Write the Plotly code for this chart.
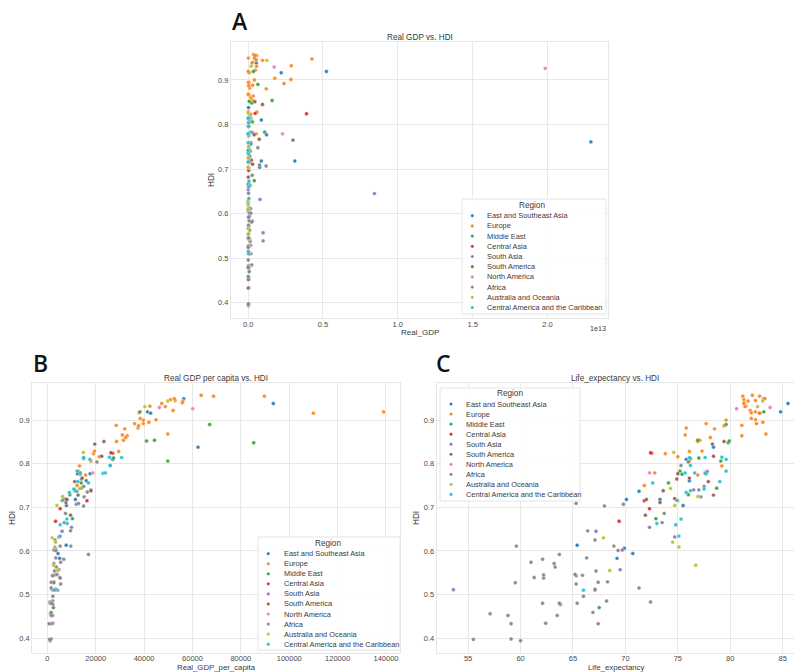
import plotly.graph_objects as go

W, H = 794, 672

# ---------------- data ----------------
REGIONS = ["East and Southeast Asia", "Europe", "Middle East", "Central Asia", "South Asia",
           "South America", "North America", "Africa", "Australia and Oceania",
           "Central America and the Caribbean"]
COLORS = ["#1f77b4", "#ff7f0e", "#2ca02c", "#d62728", "#9467bd",
          "#8c564b", "#e377c2", "#7f7f7f", "#bcbd22", "#17becf"]

# East and Southeast Asia
ESA_GDP_BN = [22900, 5230, 2210, 3120, 1230, 880, 880, 770, 550, 440, 27, 41, 72, 56, 275, 4.5]
ESA_PC = [16100, 41400, 42700, 11600, 17700, 27000, 8200, 7900, 93400, 56400, 62300, 12100, 4400, 7800, 5100, 3300]
ESA_LIFE = [76.1, 84.8, 82.8, 73.3, 77.7, 75.8, 70.1, 75.5, 85.5, 83.2, 78.4, 71.3, 70.7, 65.4, 69.2, 69.9]
ESA_HDI = [0.761, 0.919, 0.916, 0.718, 0.777, 0.810, 0.718, 0.704, 0.938, 0.949, 0.838, 0.737, 0.594, 0.613, 0.583, 0.606]

# Europe
EU_GDP_BN = [4260, 2880, 2860, 2400, 1780, 1210, 960, 560, 570, 540, 480, 360, 440, 320, 260, 340, 300, 420, 590, 310,
             540, 180, 180, 155, 125, 115, 100, 78, 58, 48, 68, 21, 22, 39, 32, 45, 12, 33, 5, 3.3, 33]
EU_PC = [50900, 42400, 44900, 39700, 38400, 32000, 56000, 48800, 68700, 52800, 52000, 63600, 89700, 55800, 47300, 33000,
         28500, 39700, 29500, 31500, 12800, 19100, 32400, 21500, 18000, 28600, 37500, 37900, 31000, 36100, 110000, 52500,
         42000, 13300, 15800, 13400, 19500, 12300, 139000, 49800, 37700]
EU_LIFE = [81.3, 81.5, 82.4, 82.5, 82.0, 78.5, 81.7, 81.4, 82.8, 82.4, 81.9, 82.1, 81.2, 81.3, 81.3, 81.1, 81.1, 79.6,
           76.1, 77.1, 72.8, 73.8, 78.1, 75.0, 76.1, 76.9, 75.8, 82.0, 75.7, 77.7, 82.8, 83.3, 83.1, 79.2, 76.9, 77.6,
           77.3, 71.8, 82.4, 83.4, 79.4]
EU_HDI = [0.947, 0.932, 0.901, 0.892, 0.904, 0.880, 0.944, 0.931, 0.955, 0.945, 0.922, 0.957, 0.955, 0.940, 0.938, 0.864,
          0.888, 0.900, 0.828, 0.854, 0.779, 0.823, 0.860, 0.816, 0.806, 0.851, 0.882, 0.917, 0.866, 0.892, 0.916, 0.949,
          0.895, 0.795, 0.774, 0.780, 0.829, 0.750, 0.919, 0.868, 0.887]

# Middle East
ME_GDP_BN = [1600, 1100, 350, 650, 410, 240, 290, 180, 100, 85, 72, 70, 56, 40, 140]
ME_PC = [44300, 12800, 38300, 67100, 10400, 85300, 49800, 27400, 9300, 14000, 41000, 2500, 15000, 13600, 14000]
ME_LIFE = [76.9, 75.2, 83.2, 79.6, 72.9, 79.8, 79.1, 77.0, 76.0, 78.7, 79.9, 67.5, 76.2, 75.4, 74.1]
ME_HDI = [0.854, 0.783, 0.919, 0.890, 0.674, 0.848, 0.806, 0.813, 0.729, 0.744, 0.852, 0.470, 0.812, 0.776, 0.756]

# Central Asia
CA_GDP_BN = [3900, 470, 220, 100, 35, 29]
CA_PC = [27000, 26300, 6700, 16400, 5300, 3400]
CA_LIFE = [72.5, 72.4, 74.7, 71.8, 72.3, 69.4]
CA_HDI = [0.824, 0.825, 0.720, 0.715, 0.697, 0.668]

# South Asia
SA_GDP_BN = [8440, 1000, 790, 280, 80, 80, 7, 10]
SA_PC = [6100, 4800, 4800, 12900, 2700, 2100, 10000, 18000]
SA_LIFE = [67.2, 69.5, 74.7, 77.8, 69.7, 53.6, 72.3, 76.5]
SA_HDI = [0.645, 0.557, 0.632, 0.782, 0.602, 0.511, 0.654, 0.740]

# South America
SAM_GDP_BN = [3000, 960, 740, 450, 400, 300, 190, 90, 90, 78, 7, 10]
SAM_PC = [14100, 19600, 14400, 23400, 12500, 7700, 11300, 7900, 12700, 22500, 9600, 18000]
SAM_LIFE = [74.9, 78.3, 76.1, 79.4, 75.0, 73.3, 77.9, 72.0, 78.4, 78.4, 71.9, 73.6]
SAM_HDI = [0.765, 0.845, 0.767, 0.851, 0.777, 0.711, 0.759, 0.718, 0.728, 0.817, 0.682, 0.738]

# North America
NA_GDP_BN = [19850, 1740, 2300]
NA_PC = [60100, 46300, 18800]
NA_LIFE = [80.6, 83.8, 72.3]
NA_HDI = [0.926, 0.929, 0.779]

# Africa
AF_GDP_BN = [1000, 1200, 760, 650, 270, 240, 180, 160, 160, 220, 180, 135, 60, 130, 95, 90, 70, 65, 55, 45, 40, 40, 35,
             29, 40, 38, 40, 25, 30, 35, 25, 28, 4.5, 21, 20, 8, 12, 13, 7, 18, 10, 5.5, 3.5, 6, 25, 11, 28, 30, 5,
             2.5, 4, 0.7, 2.8]
AF_PC = [5200, 12000, 12900, 15000, 7500, 2200, 3500, 2700, 5300, 6800, 4200, 11200, 15200, 5300, 3700, 2200, 1100, 3500,
         3400, 2300, 2200, 16500, 15000, 20500, 1600, 1300, 2700, 2200, 2300, 3200, 1200, 1600, 900, 1100, 1600, 700,
         1600, 1600, 1400, 4000, 1600, 2300, 1800, 2700, 9600, 9700, 5500, 17000, 5500, 3000, 7000, 3200, 26000]
AF_LIFE = [61.3, 69.8, 65.3, 77.5, 73.7, 68.2, 69.3, 68.3, 68.9, 62.1, 67.1, 77.0, 77.2, 62.2, 63.3, 65.9, 62.1, 66.3,
           67.1, 62.4, 63.5, 64.9, 68.0, 76.0, 67.4, 57.1, 63.2, 65.3, 63.8, 62.2, 60.0, 59.1, 55.5, 72.4, 59.1, 67.4,
           58.8, 71.3, 65.4, 65.2, 66.9, 66.0, 63.7, 59.5, 66.4, 59.6, 61.0, 63.7, 65.3, 67.2, 73.5, 67.1, 75.3]
AF_HDI = [0.539, 0.707, 0.709, 0.748, 0.686, 0.485, 0.601, 0.529, 0.611, 0.581, 0.510, 0.740, 0.724, 0.538, 0.563, 0.544,
          0.480, 0.584, 0.512, 0.434, 0.452, 0.735, 0.703, 0.804, 0.528, 0.456, 0.571, 0.543, 0.477, 0.545, 0.394,
          0.398, 0.397, 0.483, 0.433, 0.433, 0.452, 0.515, 0.480, 0.546, 0.459, 0.496, 0.480, 0.527, 0.646, 0.611,
          0.574, 0.592, 0.524, 0.554, 0.665, 0.625, 0.796]

# Australia and Oceania
AO_GDP_BN = [1250, 200, 37, 12, 1.1, 0.6, 0.8, 1.4, 0.25, 0.4, 0.3, 0.2]
AO_PC = [49800, 40300, 4300, 13400, 6000, 6300, 3100, 2600, 2000, 3400, 14900, 4000]
AO_LIFE = [83.1, 82.6, 68.5, 74.3, 75.0, 76.9, 75.1, 76.7, 67.9, 74.5, 74.6, 74.7]
AO_HDI = [0.944, 0.931, 0.555, 0.743, 0.715, 0.725, 0.609, 0.567, 0.630, 0.620, 0.826, 0.704]

# Central America and the Caribbean
CAC_GDP_BN = [137, 190, 140, 90, 110, 50, 55, 35, 33, 26, 37, 12, 5, 2.8, 1.8, 1.3, 2.3, 0.8, 1.5, 3.3]
CAC_PC = [12300, 17000, 8200, 17600, 25700, 5300, 8100, 5300, 2900, 9100, 26000, 30700, 15000, 12600, 13600, 11500,
          23000, 11000, 24000, 6400]
CAC_LIFE = [79.6, 72.6, 73.0, 79.6, 79.2, 75.1, 75.3, 74.8, 66.0, 75.8, 76.2, 76.1, 77.6, 79.0, 75.7, 76.2, 77.6, 77.5,
            76.6, 74.9]
CAC_HDI = [0.783, 0.756, 0.663, 0.810, 0.815, 0.634, 0.673, 0.660, 0.510, 0.734, 0.796, 0.814, 0.814, 0.759, 0.779,
           0.738, 0.778, 0.742, 0.779, 0.716]

GDP_BN = [ESA_GDP_BN, EU_GDP_BN, ME_GDP_BN, CA_GDP_BN, SA_GDP_BN, SAM_GDP_BN, NA_GDP_BN, AF_GDP_BN, AO_GDP_BN, CAC_GDP_BN]
GDP_PC = [ESA_PC, EU_PC, ME_PC, CA_PC, SA_PC, SAM_PC, NA_PC, AF_PC, AO_PC, CAC_PC]
LIFE = [ESA_LIFE, EU_LIFE, ME_LIFE, CA_LIFE, SA_LIFE, SAM_LIFE, NA_LIFE, AF_LIFE, AO_LIFE, CAC_LIFE]
HDI = [ESA_HDI, EU_HDI, ME_HDI, CA_HDI, SA_HDI, SAM_HDI, NA_HDI, AF_HDI, AO_HDI, CAC_HDI]

for i in range(len(REGIONS)):
    n = len(HDI[i])
    if not (len(GDP_BN[i]) == len(GDP_PC[i]) == len(LIFE[i]) == n):
        raise ValueError("length mismatch in region %s: %d %d %d %d" % (
            REGIONS[i], len(GDP_BN[i]), len(GDP_PC[i]), len(LIFE[i]), n))

X_TICKS_A = [0, 0.5e13, 1.0e13, 1.5e13, 2.0e13]
X_TICKTEXT_A = ["0.0", "0.5", "1.0", "1.5", "2.0"]
X_TICKS_B = [0, 20000, 40000, 60000, 80000, 100000, 120000, 140000]
X_TICKS_C = [55, 60, 65, 70, 75, 80, 85]
Y_TICKS = [0.4, 0.5, 0.6, 0.7, 0.8, 0.9]

# ---------------- layout helpers ----------------
FONT = "Liberation Sans, Arial, sans-serif"
TXT = "#3a3a3a"


def px(x):
    return x / W


def py(y):
    return 1 - y / H


def padded(vals, frac=0.05):
    lo, hi = min(vals), max(vals)
    s = hi - lo
    return [lo - frac * s, hi + frac * s]


all_gdp = [v * 1e9 for grp in GDP_BN for v in grp]
all_pc = [v for grp in GDP_PC for v in grp]
all_life = [v for grp in LIFE for v in grp]
all_hdi = [v for grp in HDI for v in grp]

# panel pixel boxes (left, top, right, bottom)
A_BOX = (231, 42, 608, 318)
B_BOX = (32.3, 383, 400.3, 653)
C_LEFT = 436.7
C_FULL_W = B_BOX[2] - B_BOX[0]

fig = go.Figure()

for i, reg in enumerate(REGIONS):
    mk = dict(color=COLORS[i], size=3.9, opacity=0.9, line=dict(color="white", width=0.4))
    fig.add_trace(go.Scatter(x=[v * 1e9 for v in GDP_BN[i]], y=HDI[i], mode="markers", marker=mk,
                             name=reg, showlegend=False, xaxis="x", yaxis="y"))
    fig.add_trace(go.Scatter(x=GDP_PC[i], y=HDI[i], mode="markers", marker=mk,
                             name=reg, showlegend=False, xaxis="x2", yaxis="y2"))
    fig.add_trace(go.Scatter(x=LIFE[i], y=HDI[i], mode="markers", marker=mk,
                             name=reg, showlegend=False, xaxis="x3", yaxis="y3"))

axis_style = dict(showgrid=True, gridcolor="#e8e8e8", gridwidth=1, zeroline=False,
                  showline=True, linecolor="#e6e6e6", linewidth=1, mirror=True, ticks="",
                  tickfont=dict(family=FONT, size=7.5, color="#4a4a4a"), automargin=False)

yr = padded(all_hdi)
c_full = padded(all_life)
c_vis = [c_full[0], c_full[0] + (c_full[1] - c_full[0]) * (W - C_LEFT) / C_FULL_W]

fig.update_layout(
    width=W, height=H, margin=dict(l=0, r=0, t=0, b=0),
    paper_bgcolor="white", plot_bgcolor="white",
    font=dict(family=FONT, color=TXT),
    xaxis=dict(axis_style, domain=[px(A_BOX[0]), px(A_BOX[2])], range=padded(all_gdp),
               tickvals=X_TICKS_A, ticktext=X_TICKTEXT_A, anchor="y", ticklabelstandoff=-1),
    yaxis=dict(axis_style, domain=[py(A_BOX[3]), py(A_BOX[1])], range=yr,
               tickvals=Y_TICKS, ticktext=["%.1f" % v for v in Y_TICKS], anchor="x"),
    xaxis2=dict(axis_style, domain=[px(B_BOX[0]), px(B_BOX[2])], range=padded(all_pc),
                tickvals=X_TICKS_B, tickformat="d", anchor="y2", ticklabelstandoff=-2),
    yaxis2=dict(axis_style, domain=[py(B_BOX[3]), py(B_BOX[1])], range=yr,
                tickvals=Y_TICKS, ticktext=["%.1f" % v for v in Y_TICKS], anchor="x2"),
    xaxis3=dict(axis_style, domain=[px(C_LEFT), 1.0], range=c_vis,
                tickvals=X_TICKS_C, anchor="y3", ticklabelstandoff=-2),
    yaxis3=dict(axis_style, domain=[py(B_BOX[3]), py(B_BOX[1])], range=yr,
                tickvals=Y_TICKS, ticktext=["%.1f" % v for v in Y_TICKS], anchor="x3"),
)

ann = []
shapes = []


def text(x, y, s, size=8.5, color=TXT, xanchor="center", angle=0, family=FONT, weight=None):
    f = dict(family=family, size=size, color=color)
    if weight:
        f["weight"] = weight
    ann.append(dict(x=px(x), y=py(y), xref="paper", yref="paper", text=s, showarrow=False,
                    xanchor=xanchor, yanchor="middle", textangle=angle, font=f))


# panel letters
text(230, 21, "A", size=23, color="#111111", xanchor="left", family="Open Sans, sans-serif", weight=600)
text(31, 363, "B", size=23, color="#111111", xanchor="left", family="Open Sans, sans-serif", weight=600)
text(434, 363, "C", size=23, color="#111111", xanchor="left", family="Open Sans, sans-serif", weight=600)

# titles
text((A_BOX[0] + A_BOX[2]) / 2, 37, "Real GDP vs. HDI", size=8.2)
text((B_BOX[0] + B_BOX[2]) / 2, 378, "Real GDP per capita vs. HDI", size=8.2)
text(C_LEFT + C_FULL_W / 2 - 6, 378, "Life_expectancy vs. HDI", size=8.2)

# axis titles
text(212, 180, "HDI", size=8.2, angle=-90)
text(12, 518, "HDI", size=8.2, angle=-90)
text(416, 518, "HDI", size=8.2, angle=-90)
text((A_BOX[0] + A_BOX[2]) / 2, 332.5, "Real_GDP", size=8.0)
text((B_BOX[0] + B_BOX[2]) / 2, 667.3, "Real_GDP_per_capita", size=7.8)
text(616, 667.3, "Life_expectancy", size=7.8)
text(608, 328, "1e13", size=7.2, xanchor="right")


# legends
def legend(box, title_xy, y0, dy, dot_x, text_x):
    shapes.append(dict(type="rect", xref="paper", yref="paper", x0=px(box[0]), x1=px(box[2]),
                       y0=py(box[3]), y1=py(box[1]), line=dict(color="#e4e4e4", width=1),
                       fillcolor="rgba(255,255,255,0.85)", layer="above"))
    text(title_xy[0], title_xy[1], "Region", size=8.2)
    for i, reg in enumerate(REGIONS):
        yy = y0 + i * dy
        shapes.append(dict(type="circle", xref="paper", yref="paper", xsizemode="pixel",
                           ysizemode="pixel", xanchor=px(dot_x), yanchor=py(yy),
                           x0=-1.6, x1=1.6, y0=-1.6, y1=1.6, fillcolor=COLORS[i],
                           line=dict(color="white", width=0.3), layer="above"))
        text(text_x, yy, reg, size=7.4, xanchor="left")


legend((462, 199, 606, 314), (532, 205), 215.7, 10.2, 472.3, 485)
legend((258, 537, 400, 650), (328, 543), 553.7, 10.05, 268.3, 281.7)
legend((440, 388, 580, 501), (510, 393), 404, 10.05, 451, 463.5)

fig.update_layout(annotations=ann, shapes=shapes)
fig.write_html("out.html", config={"displayModeBar": False},
               post_script="document.body.style.margin='0px';document.body.style.overflow='hidden';")
